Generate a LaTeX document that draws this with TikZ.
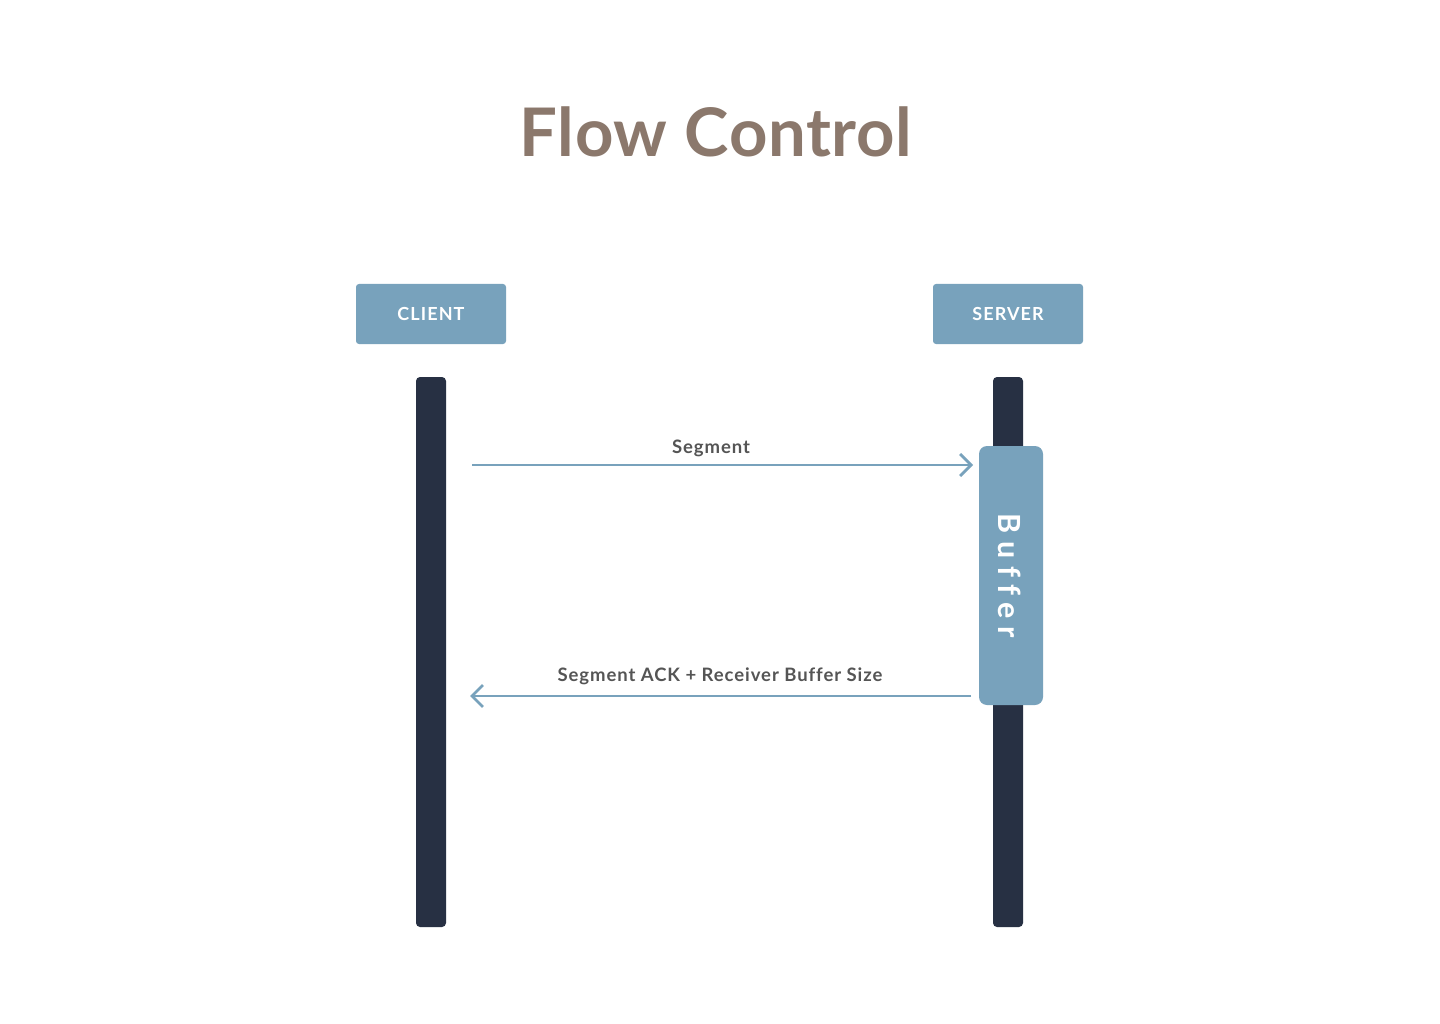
\documentclass[tikz,border=0pt]{standalone}
\usepackage{fontspec}
\setmainfont{Lato}
\usetikzlibrary{arrows.meta}
\definecolor{boxblue}{HTML}{78A2BC}
\definecolor{lifedark}{HTML}{273043}
\definecolor{titlebrown}{HTML}{8B786C}
\definecolor{labelgray}{HTML}{555555}
\newfontfamily\titlefont[LetterSpace=1,Ligatures=NoCommon]{Lato Bold}
\newfontfamily\actorfont[LetterSpace=6,Ligatures=NoCommon]{Lato Bold}
\newfontfamily\labelfont[LetterSpace=5,Ligatures=NoCommon]{Lato Bold}
\newfontfamily\bufferfont[LetterSpace=25,Ligatures=NoCommon]{Lato Bold}
\tikzset{
  actorbox/.style={fill=boxblue, rounded corners=3pt, minimum width=150pt, minimum height=60pt, inner sep=0pt, text=white, font=\actorfont\fontsize{18}{18}\selectfont},
  lifeline/.style={fill=lifedark, rounded corners=4pt, minimum width=30pt, minimum height=550pt, inner sep=0pt},
  bufferbox/.style={fill=boxblue, rounded corners=8pt, minimum width=64pt, minimum height=259pt, inner sep=0pt},
  msg/.style={draw=boxblue, line width=2.7pt, -{Straight Barb[length=11pt, width=22pt, line width=2.7pt]}},
  msglabel/.style={text=labelgray, font=\labelfont\fontsize{18.5}{18.5}\selectfont, inner sep=0pt, anchor=base},
}
\begin{document}
\begin{tikzpicture}[x=1pt,y=-1pt]
\useasboundingbox (0,0) rectangle (1440,1024);
\fill[white] (0,0) rectangle (1440,1024);
\node[text=titlebrown, font=\titlefont\fontsize{67}{67}\selectfont, inner sep=0pt, anchor=base] (title) at (716,157) {Flow Control};
\node[actorbox] (client) at (431,314) {CLIENT};
\node[actorbox] (server) at (1008,314) {SERVER};
\node[lifeline] (cl) at (431,652) {};
\node[lifeline] (sl) at (1008,652) {};
\node[bufferbox] (buf) at (1011,575.5) {};
\node[text=white, font=\bufferfont\fontsize{30.5}{30.5}\selectfont, rotate=-90, inner sep=0pt] (buftext) at (1010,576) {Buffer};
\coordinate (s1) at (472,465);
\coordinate (e1) at (973,465);
\coordinate (s2) at (971,696);
\coordinate (e2) at (470,696);
\draw[msg] (s1) -- (e1);
\draw[msg] (s2) -- (e2);
\node[msglabel] (l1) at (711,453) {Segment};
\node[msglabel] (l2) at (720,681) {Segment ACK + Receiver Buffer Size};
\end{tikzpicture}
\end{document}
